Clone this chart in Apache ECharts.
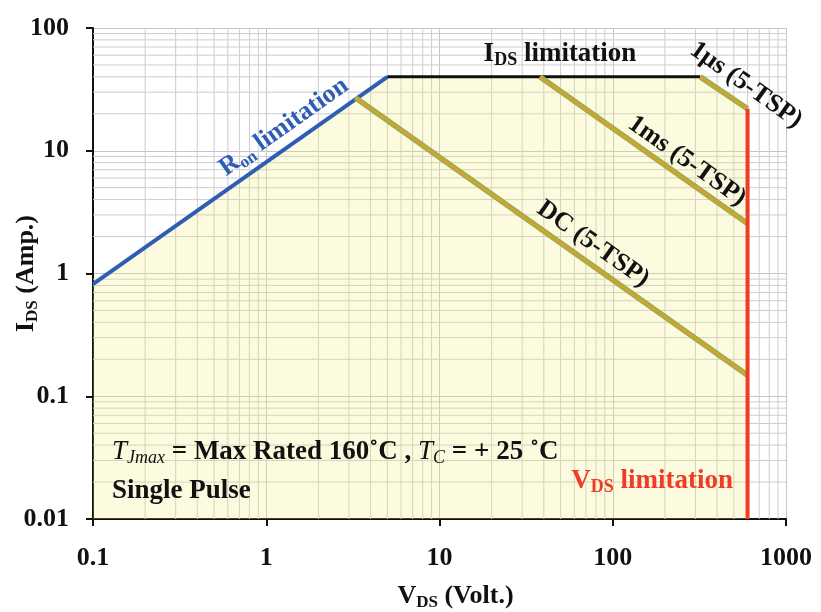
<!DOCTYPE html>
<html>
<head>
<meta charset="utf-8">
<script src="https://cdn.jsdelivr.net/npm/echarts@6/dist/echarts.min.js"></script>
<style>
  html, body { margin: 0; padding: 0; background: #fff; }
  #soa { width: 821px; height: 612px; }
</style>
</head>
<body>
<div id="soa"></div>
<script>
// SOA curve points (V in volts, I in amps)
var ronV = [0.1, 5];
var ronI = [0.82, 40];
var idsV = [5, 320];
var idsI = [40, 40];
var us1V = [320, 600];
var us1I = [40, 22];
var ms1V = [38, 600];
var ms1I = [40, 2.55];
var dcV = [3.27, 600];
var dcI = [27, 0.148];
var vdsV = [600, 600];
var vdsI = [0.01, 22];
// safe operating envelope (filled area)
var soaV = [0.1, 5, 320, 600];
var soaI = [0.82, 40, 40, 22];

var xDecades = [0.1, 1, 10, 100];
var yDecades = [0.01, 0.1, 1, 10];

function pair(xs, ys) {
    return xs.map(function (x, i) { return [x, ys[i]]; });
}

// minor grid lines at 2..9 of each decade
var minorGrid = [];
xDecades.forEach(function (d) {
    for (var k = 2; k <= 9; k++) minorGrid.push([+(d * k).toPrecision(3), 1, 0]);
});
yDecades.forEach(function (d) {
    for (var k = 2; k <= 9; k++) minorGrid.push([1, +(d * k).toPrecision(3), 1]);
});

var serif = 'Liberation Serif';
var tickFmt = function (v) { return String(+(+v).toPrecision(3)); };

// rich text with a subscript, used for V_DS / I_DS / R_on labels
function subRich(color, big, small) {
    return {
        a: { fontFamily: serif, fontWeight: 'bold', fontSize: big, fill: color, color: color, lineHeight: big + 4, verticalAlign: 'middle' },
        s: { fontFamily: serif, fontWeight: 'bold', fontSize: small, fill: color, color: color, lineHeight: small, verticalAlign: 'bottom' }
    };
}

var myChart = echarts.init(document.getElementById('soa'));

function bandLine(name, data) {
    // gold pulse lines with a thin green edge
    return [
        { name: name, type: 'line', data: data, symbol: 'none', z: 3, silent: true,
          lineStyle: { color: '#78b545', width: 5.5 } },
        { name: name, type: 'line', data: data, symbol: 'none', z: 3, silent: true,
          lineStyle: { color: '#cda23a', width: 3.8 } }
    ];
}

var option = {
    animation: false,
    grid: { left: 93, right: 35, top: 28, bottom: 93, outerBoundsMode: 'none' },
    xAxis: {
        type: 'log', logBase: 10, min: 0.1, max: 1000, splitNumber: 4,
        name: '{a|V}{s|DS}{a| (Volt.)}',
        nameLocation: 'middle', nameGap: 62, nameMoveOverlap: false,
        nameTextStyle: {
            padding: [0, 0, 0, 32],
            rich: subRich('#111', 26, 17)
        },
        axisLine: { lineStyle: { color: '#111', width: 2 } },
        axisTick: { length: 7, lineStyle: { color: '#111', width: 2 } },
        axisLabel: { fontFamily: serif, fontWeight: 'bold', fontSize: 26, color: '#111', margin: 26, formatter: tickFmt },
        splitLine: { show: true, lineStyle: { color: '#c6c6c6', width: 1 } }
    },
    yAxis: {
        type: 'log', logBase: 10, min: 0.01, max: 100, splitNumber: 4,
        name: '{a|I}{s|DS}{a| (Amp.)}',
        nameLocation: 'middle', nameGap: 52, nameMoveOverlap: false,
        nameTextStyle: {
            rich: subRich('#111', 26, 17)
        },
        axisLine: { lineStyle: { color: '#111', width: 2 } },
        axisTick: { length: 7, lineStyle: { color: '#111', width: 2 } },
        axisLabel: { fontFamily: serif, fontWeight: 'bold', fontSize: 26, color: '#111', margin: 24, formatter: tickFmt },
        splitLine: { show: true, lineStyle: { color: '#c6c6c6', width: 1 } }
    },
    series: [].concat(
        [{
            type: 'custom', z: 1, silent: true,
            data: minorGrid,
            renderItem: function (params, api) {
                var p1, p2;
                if (api.value(2) === 0) {
                    p1 = api.coord([api.value(0), 0.01]); p2 = api.coord([api.value(0), 100]);
                } else {
                    p1 = api.coord([0.1, api.value(1)]); p2 = api.coord([1000, api.value(1)]);
                }
                return {
                    type: 'line',
                    shape: { x1: p1[0], y1: p1[1], x2: p2[0], y2: p2[1] },
                    style: { stroke: '#cdcdcd', lineWidth: 1 }
                };
            }
        },
        {
            name: 'SOA', type: 'line', data: pair(soaV, soaI), symbol: 'none', z: 2, silent: true,
            lineStyle: { width: 0 },
            areaStyle: { color: 'rgba(242,235,118,0.32)', origin: 'start' }
        },
        {
            name: 'Ron', type: 'line', data: pair(ronV, ronI), symbol: 'none', z: 3, silent: true,
            lineStyle: { color: '#2f5db5', width: 4 }
        },
        {
            name: 'IDS', type: 'line', data: pair(idsV, idsI), symbol: 'none', z: 3, silent: true,
            lineStyle: { color: '#111', width: 3 }
        }],
        bandLine('DC', pair(dcV, dcI)),
        bandLine('1ms', pair(ms1V, ms1I)),
        bandLine('1us', pair(us1V, us1I)),
        [{
            name: 'VDS', type: 'line', data: pair(vdsV, vdsI), symbol: 'none', z: 4, silent: true,
            lineStyle: { color: '#f03b25', width: 4 }
        }]
    ),
    graphic: [
        {
            type: 'text', x: 284, y: 127, rotation: 0.616, z: 10,
            style: {
                text: '{a|R}{s|on}{a| limitation}', align: 'center', verticalAlign: 'middle',
                rich: subRich('#2f5db5', 26, 17)
            }
        },
        {
            type: 'text', x: 560, y: 54, z: 10,
            style: {
                text: '{a|I}{s|DS}{a| limitation}', align: 'center', verticalAlign: 'middle',
                rich: subRich('#111', 27, 18)
            }
        },
        {
            type: 'text', x: 746, y: 85, rotation: -0.616, z: 10,
            style: { text: '1μs (5-TSP)', align: 'center', verticalAlign: 'middle',
                     fontFamily: serif, fontWeight: 'bold', fontSize: 26, fill: '#111' }
        },
        {
            type: 'text', x: 687, y: 161, rotation: -0.616, z: 10,
            style: { text: '1ms (5-TSP)', align: 'center', verticalAlign: 'middle',
                     fontFamily: serif, fontWeight: 'bold', fontSize: 26, fill: '#111' }
        },
        {
            type: 'text', x: 593, y: 244, rotation: -0.616, z: 10,
            style: { text: 'DC (5-TSP)', align: 'center', verticalAlign: 'middle',
                     fontFamily: serif, fontWeight: 'bold', fontSize: 26, fill: '#111' }
        },
        {
            type: 'text', x: 112, y: 452, z: 10,
            style: {
                text: '{i|T}{is|Jmax}{b| = Max Rated 160˚C , }{i|T}{is|C}{b| = + 25 ˚C}',
                align: 'left', verticalAlign: 'middle',
                rich: {
                    i: { fontFamily: serif, fontStyle: 'italic', fontSize: 27, fill: '#111', lineHeight: 31, verticalAlign: 'middle' },
                    is: { fontFamily: serif, fontStyle: 'italic', fontSize: 18, fill: '#111', lineHeight: 18, verticalAlign: 'bottom' },
                    b: { fontFamily: serif, fontWeight: 'bold', fontSize: 27, fill: '#111', lineHeight: 31, verticalAlign: 'middle' }
                }
            }
        },
        {
            type: 'text', x: 112, y: 491, z: 10,
            style: { text: 'Single Pulse', align: 'left', verticalAlign: 'middle',
                     fontFamily: serif, fontWeight: 'bold', fontSize: 27, fill: '#111' }
        },
        {
            type: 'text', x: 733, y: 481, z: 10,
            style: {
                text: '{a|V}{s|DS}{a| limitation}', align: 'right', verticalAlign: 'middle',
                rich: subRich('#f03b25', 27, 18)
            }
        }
    ]
};

myChart.setOption(option);
window.onresize = function () {
    myChart.resize();
};
</script>
</body>
</html>
